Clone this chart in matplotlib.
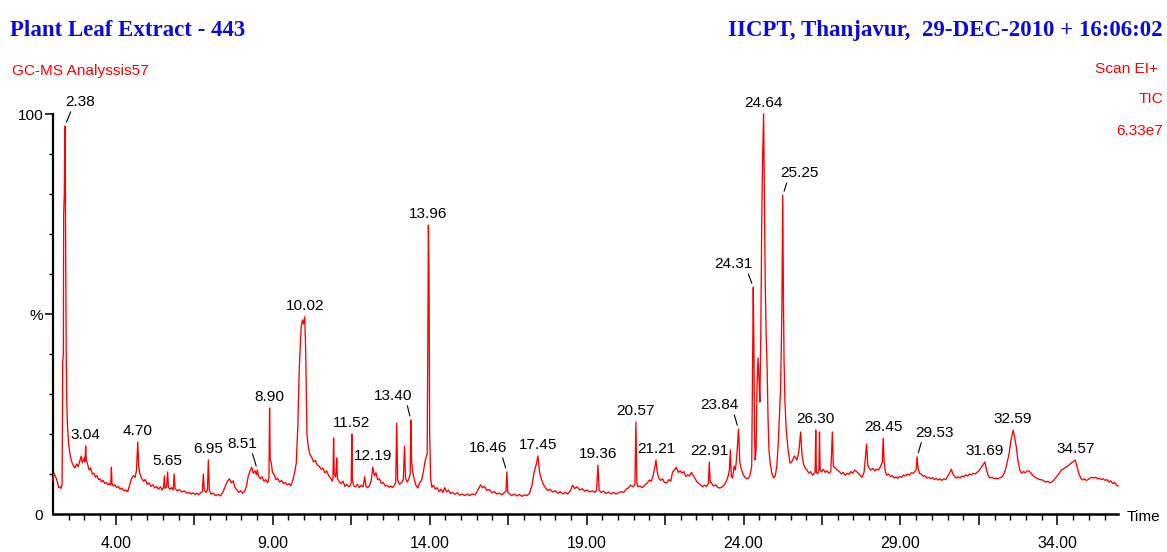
import matplotlib
matplotlib.use("Agg")
import matplotlib.pyplot as plt
import matplotlib.font_manager as fm
from matplotlib.ticker import FixedLocator, FixedFormatter

# ---------------- data ----------------
trace_time = [
    2.00, 2.03, 2.06, 2.10, 2.14, 2.18, 2.22, 2.26, 2.29, 2.31, 2.33, 2.34, 2.36, 2.37, 2.38, 2.39, 2.40, 2.42, 2.44, 2.46,
    2.50, 2.55, 2.60, 2.65, 2.70, 2.75, 2.80, 2.85, 2.90, 2.93, 2.97, 3.00, 3.02, 3.04, 3.06, 3.10, 3.15, 3.20, 3.25, 3.30,
    3.35, 3.40, 3.45, 3.50, 3.55, 3.60, 3.65, 3.70, 3.75, 3.80, 3.84, 3.86, 3.88, 3.92, 3.97, 4.02, 4.08, 4.14, 4.20, 4.26,
    4.32, 4.38, 4.44, 4.50, 4.56, 4.62, 4.66, 4.70, 4.73, 4.77, 4.82, 4.88, 4.94, 5.00, 5.06, 5.12, 5.18, 5.24, 5.30, 5.36,
    5.42, 5.48, 5.52, 5.55, 5.57, 5.62, 5.65, 5.68, 5.73, 5.78, 5.83, 5.86, 5.89, 5.95, 6.02, 6.10, 6.18, 6.26, 6.34, 6.40,
    6.46, 6.52, 6.58, 6.64, 6.70, 6.76, 6.79, 6.82, 6.88, 6.92, 6.95, 6.98, 7.03, 7.10, 7.18, 7.26, 7.34, 7.42, 7.50, 7.56,
    7.62, 7.68, 7.74, 7.80, 7.86, 7.92, 7.98, 8.04, 8.10, 8.16, 8.22, 8.28, 8.33, 8.38, 8.44, 8.48, 8.51, 8.55, 8.60, 8.66,
    8.72, 8.78, 8.84, 8.88, 8.90, 8.92, 8.95, 8.99, 9.05, 9.10, 9.16, 9.22, 9.28, 9.34, 9.40, 9.46, 9.52, 9.58, 9.64, 9.70,
    9.75, 9.80, 9.84, 9.87, 9.91, 9.95, 9.98, 10.02, 10.05, 10.07, 10.09, 10.13, 10.18, 10.24, 10.30, 10.36, 10.42, 10.48, 10.54, 10.60,
    10.66, 10.72, 10.78, 10.84, 10.90, 10.92, 10.94, 10.96, 11.00, 11.02, 11.04, 11.06, 11.12, 11.18, 11.24, 11.30, 11.36, 11.42, 11.48, 11.50,
    11.52, 11.54, 11.58, 11.64, 11.70, 11.76, 11.82, 11.88, 11.93, 11.97, 12.02, 12.08, 12.14, 12.19, 12.24, 12.29, 12.34, 12.40, 12.46, 12.52,
    12.58, 12.64, 12.70, 12.76, 12.82, 12.88, 12.92, 12.95, 12.98, 13.04, 13.10, 13.16, 13.20, 13.23, 13.28, 13.33, 13.38, 13.40, 13.42, 13.45,
    13.50, 13.56, 13.62, 13.68, 13.74, 13.80, 13.86, 13.92, 13.94, 13.96, 13.98, 14.00, 14.03, 14.07, 14.12, 14.18, 14.24, 14.30, 14.36, 14.42,
    14.48, 14.54, 14.60, 14.66, 14.73, 14.80, 14.88, 14.96, 15.04, 15.12, 15.20, 15.27, 15.35, 15.45, 15.55, 15.62, 15.68, 15.74, 15.82, 15.90,
    15.98, 16.06, 16.14, 16.22, 16.30, 16.38, 16.43, 16.46, 16.49, 16.55, 16.62, 16.70, 16.78, 16.86, 16.94, 17.02, 17.10, 17.18, 17.26, 17.33,
    17.40, 17.45, 17.50, 17.55, 17.62, 17.70, 17.77, 17.84, 17.92, 18.00, 18.08, 18.16, 18.24, 18.32, 18.40, 18.48, 18.55, 18.62, 18.70, 18.78,
    18.86, 18.94, 19.02, 19.10, 19.18, 19.26, 19.32, 19.36, 19.40, 19.46, 19.54, 19.62, 19.70, 19.78, 19.86, 19.94, 20.02, 20.10, 20.18, 20.26,
    20.34, 20.40, 20.48, 20.54, 20.57, 20.60, 20.63, 20.70, 20.78, 20.86, 20.94, 21.00, 21.06, 21.12, 21.18, 21.21, 21.25, 21.30, 21.36, 21.42,
    21.48, 21.55, 21.62, 21.68, 21.74, 21.80, 21.86, 21.92, 21.98, 22.04, 22.10, 22.16, 22.22, 22.28, 22.34, 22.40, 22.46, 22.52, 22.58, 22.64,
    22.70, 22.76, 22.82, 22.88, 22.91, 22.94, 22.99, 23.05, 23.12, 23.18, 23.25, 23.32, 23.38, 23.44, 23.50, 23.55, 23.58, 23.61, 23.65, 23.70,
    23.74, 23.78, 23.84, 23.88, 23.92, 23.98, 24.04, 24.10, 24.16, 24.20, 24.26, 24.29, 24.31, 24.33, 24.35, 24.37, 24.40, 24.43, 24.46, 24.49,
    24.52, 24.55, 24.58, 24.61, 24.64, 24.67, 24.69, 24.72, 24.75, 24.78, 24.81, 24.85, 24.90, 24.96, 25.01, 25.06, 25.10, 25.14, 25.18, 25.22,
    25.25, 25.27, 25.29, 25.32, 25.36, 25.42, 25.48, 25.55, 25.62, 25.70, 25.76, 25.82, 25.86, 25.91, 25.96, 26.02, 26.08, 26.14, 26.20, 26.26,
    26.28, 26.30, 26.32, 26.36, 26.40, 26.42, 26.44, 26.48, 26.54, 26.60, 26.66, 26.72, 26.78, 26.83, 26.86, 26.92, 26.98, 27.05, 27.12, 27.18,
    27.24, 27.30, 27.36, 27.42, 27.48, 27.54, 27.60, 27.66, 27.72, 27.78, 27.84, 27.92, 27.96, 28.00, 28.06, 28.12, 28.18, 28.24, 28.30, 28.36,
    28.42, 28.45, 28.48, 28.52, 28.56, 28.62, 28.68, 28.74, 28.80, 28.86, 28.92, 28.98, 29.04, 29.10, 29.16, 29.22, 29.28, 29.34, 29.40, 29.46,
    29.50, 29.53, 29.56, 29.60, 29.66, 29.72, 29.78, 29.84, 29.90, 29.96, 30.02, 30.08, 30.14, 30.20, 30.26, 30.32, 30.38, 30.44, 30.50, 30.56,
    30.62, 30.67, 30.72, 30.78, 30.84, 30.90, 30.96, 31.02, 31.08, 31.14, 31.20, 31.26, 31.32, 31.38, 31.44, 31.50, 31.56, 31.62, 31.69, 31.74,
    31.80, 31.86, 31.92, 31.98, 32.04, 32.10, 32.16, 32.22, 32.28, 32.34, 32.40, 32.46, 32.52, 32.59, 32.64, 32.69, 32.74, 32.80, 32.86, 32.92,
    32.98, 33.04, 33.10, 33.16, 33.22, 33.28, 33.34, 33.40, 33.46, 33.52, 33.58, 33.64, 33.70, 33.76, 33.82, 33.88, 33.94, 34.00, 34.06, 34.12,
    34.18, 34.24, 34.30, 34.36, 34.42, 34.48, 34.52, 34.57, 34.62, 34.68, 34.74, 34.80, 34.86, 34.92, 34.98, 35.04, 35.10, 35.16, 35.22, 35.28,
    35.34, 35.40, 35.46, 35.52, 35.58, 35.64, 35.70, 35.76, 35.82, 35.88, 35.93,
]
trace_intensity = [
    8.5, 10.2, 9.6, 9.0, 8.0, 6.6, 6.8, 6.4, 7.5, 38, 40, 75, 80, 90, 97, 88, 70, 40, 28, 22,
    17.5, 14.5, 13, 12, 11.5, 12.5, 11.8, 13.2, 14.5, 12.8, 13.5, 14.2, 13, 17, 13.5, 12.5, 11, 11.5, 10, 10.2,
    9.2, 9.6, 8.6, 8.8, 8.0, 8.4, 7.6, 7.9, 7.3, 7.6, 7.2, 11.7, 7.6, 7.0, 7.3, 6.6, 6.9, 6.2, 6.5, 5.8,
    6.0, 5.6, 7.2, 8.8, 9.6, 9.2, 11, 18, 12, 10, 9.0, 8.2, 8.6, 7.4, 7.8, 6.9, 7.3, 6.5, 6.9, 6.2,
    6.8, 6.0, 6.6, 9.5, 6.4, 6.8, 10.5, 6.6, 6.2, 6.6, 6.0, 10, 6.4, 5.8, 6.1, 5.5, 5.8, 5.2, 5.4, 5.0,
    5.3, 4.9, 5.2, 4.8, 5.3, 5.6, 10, 6.0, 5.4, 6.0, 13.5, 6.0, 5.0, 5.2, 4.6, 4.9, 4.5, 5.6, 7.2, 8.2,
    8.8, 7.8, 8.3, 6.6, 6.0, 5.4, 5.8, 5.2, 5.6, 6.8, 9.5, 10.8, 11.7, 10.2, 10.8, 9.8, 11.0, 9.4, 8.8, 9.3,
    8.2, 8.6, 7.8, 9.0, 26.5, 13.5, 13.0, 10.5, 9.8, 8.6, 8.9, 8.0, 8.4, 7.6, 7.9, 7.3, 7.6, 7.1, 8.5, 10.5,
    12.7, 22, 35, 41, 47, 48.5, 47.5, 49.3, 41, 30, 20, 17, 15, 14.2, 13, 13.4, 12.2, 12.0, 11.2, 11.5,
    10.3, 10.8, 9.6, 9.0, 8.2, 9.0, 19, 10, 9.2, 10.5, 14, 9.0, 8.0, 7.6, 8.2, 6.9, 7.4, 6.8, 7.2, 8.0,
    20, 8.5, 7.0, 6.8, 7.4, 6.6, 7.2, 6.8, 9.3, 7.0, 6.6, 7.0, 8.5, 11.7, 9.6, 10.3, 8.6, 8.8, 7.6, 7.9,
    7.0, 7.2, 6.7, 7.0, 6.6, 7.2, 8.0, 22.7, 8.5, 7.4, 7.8, 8.6, 17, 9.0, 8.0, 8.6, 10, 23.5, 14, 11,
    9.0, 7.2, 6.5, 7.8, 8.4, 10.5, 13.5, 15, 40, 72.2, 59, 20, 9, 6.7, 7.2, 6.2, 6.6, 5.6, 6.2, 5.4,
    6.6, 5.5, 6.0, 5.1, 5.4, 4.9, 5.3, 4.7, 5.0, 4.6, 5.0, 4.6, 5.0, 4.8, 6.2, 7.3, 6.6, 6.9, 5.9, 6.1,
    5.3, 5.6, 5.0, 5.2, 4.8, 5.4, 5.6, 10.5, 5.4, 5.0, 4.6, 5.0, 4.5, 4.9, 4.4, 4.8, 4.6, 5.2, 7.2, 10.5,
    12.5, 14.5, 10.5, 9.0, 7.4, 6.4, 5.9, 6.2, 5.5, 5.8, 5.2, 5.6, 5.0, 5.4, 5.0, 5.8, 7.2, 6.4, 6.8, 6.0,
    6.3, 5.7, 6.0, 5.5, 5.8, 5.4, 5.9, 12.2, 6.0, 5.4, 5.7, 5.1, 5.5, 5.0, 5.4, 5.0, 5.3, 5.6, 5.4, 6.2,
    6.6, 7.2, 6.8, 7.4, 23, 8.0, 6.8, 7.0, 6.6, 7.3, 7.8, 8.5, 8.2, 9.6, 12, 13.5, 10.5, 9.0, 8.4, 8.8,
    7.9, 7.8, 8.6, 8.2, 10.5, 11, 11.7, 10.4, 10.8, 10.2, 10.6, 9.4, 9.8, 9.5, 10.4, 9.6, 8.8, 8.0, 7.6, 7.2,
    6.8, 7.2, 6.9, 7.6, 13, 8.0, 7.6, 7.0, 7.3, 6.6, 6.5, 6.8, 7.2, 8.0, 9.2, 11, 16, 9.5, 9.0, 12,
    11, 14, 21.2, 13, 11.5, 10.0, 9.2, 8.8, 9.0, 9.5, 12, 40, 56.7, 42, 20, 13.5, 16, 32, 39, 34,
    28, 45, 73.5, 90, 100, 75, 58.5, 45, 36.8, 24, 16, 12.7, 10.2, 9.0, 9.5, 12, 16.8, 24, 31, 50,
    79.7, 55, 38.5, 28, 21, 16, 12.7, 13.2, 14.5, 13.5, 15.5, 20.5, 15, 12.5, 11.5, 11.0, 10.2, 10.6, 9.7, 10.2,
    10.5, 21, 10.5, 10, 10.8, 20.5, 11.2, 10.5, 11.2, 10.4, 10.8, 10.2, 10.6, 20.5, 12, 11.5, 11.0, 10.6, 10.0, 10.4,
    9.7, 10.2, 9.9, 10.6, 10.2, 11.0, 10.6, 10.2, 9.6, 9.2, 10.5, 17.5, 12, 11.5, 11, 11.4, 10.8, 11.2, 11, 11.8,
    13, 19, 13, 10.5, 9.7, 10.0, 9.4, 9.6, 9.0, 9.3, 8.9, 9.4, 9.2, 9.8, 9.5, 10.0, 9.7, 10.3, 10.2, 10.6,
    11.2, 14.3, 11.5, 10.2, 10.0, 9.4, 9.6, 9.0, 9.2, 8.8, 9.1, 8.6, 8.9, 8.5, 8.8, 8.4, 8.8, 8.6, 9.4, 10.2,
    11.2, 10.0, 9.4, 9.0, 9.3, 9.0, 9.5, 9.3, 9.8, 9.5, 10.0, 9.8, 10.2, 10.0, 10.4, 10.8, 11.5, 12.2, 13, 11,
    9.5, 9.0, 9.2, 8.8, 9.0, 8.8, 9.0, 9.2, 9.8, 11, 13, 15, 18.5, 21, 19, 16.8, 13.5, 11, 10.2, 10.6,
    10.3, 10.8, 10.7, 10.2, 9.6, 9.2, 9.0, 8.7, 8.6, 8.5, 8.2, 8.0, 8.2, 7.8, 8.0, 8.4, 9.0, 9.6, 10.2, 11.0,
    11.2, 11.6, 11.8, 12.2, 12.6, 13, 13.2, 13.5, 12, 10.2, 9.0, 8.5, 8.8, 8.4, 8.6, 9.0, 9.2, 9.0, 9.2, 8.8,
    8.9, 8.6, 8.8, 8.4, 8.6, 8.0, 8.3, 7.6, 7.9, 7.2, 7.0,
]

peak_labels = ["2.38", "3.04", "4.70", "5.65", "6.95", "8.51", "8.90", "10.02", "11.52", "12.19",
               "13.40", "13.96", "16.46", "17.45", "19.36", "20.57", "21.21", "22.91", "23.84", "24.31",
               "24.64", "25.25", "26.30", "28.45", "29.53", "31.69", "32.59", "34.57"]
peak_times = [2.38, 3.04, 4.70, 5.65, 6.95, 8.51, 8.90, 10.02, 11.52, 12.19,
              13.40, 13.96, 16.46, 17.45, 19.36, 20.57, 21.21, 22.91, 23.84, 24.31,
              24.64, 25.25, 26.30, 28.45, 29.53, 31.69, 32.59, 34.57]
peak_heights = [97, 17, 18, 10.5, 13.5, 11.0, 26.5, 49.3, 20, 11.7,
                23.5, 72.2, 10.5, 14.5, 12.2, 23, 13.5, 13, 21.2, 56.7,
                100, 79.7, 21, 19, 14.3, 13, 21, 13.5]

x_major_ticks = [4, 6.5, 9, 11.5, 14, 16.5, 19, 21.5, 24, 26.5, 29, 31.5, 34]
x_tick_labels = ["4.00", "", "9.00", "", "14.00", "", "19.00", "", "24.00", "", "29.00", "", "34.00"]
y_major_ticks = [0, 50, 100]
y_tick_labels = ["0", "%", "100"]

# ---------------- layout / style ----------------
W, H = 1167, 552
avail = {f.name for f in fm.fontManager.ttflist}
if "Liberation Sans Narrow" in avail:
    SANS = ["Liberation Sans Narrow", "DejaVu Sans"]
    k = 1.0
else:
    SANS = ["Liberation Sans", "DejaVu Sans"]
    k = 0.82
SERIF = ["Liberation Serif", "DejaVu Serif"]
FS = 13.5 * k
RED = "#FF0000"
BLUE = "#0A0ADC"

# label offsets in pixels (dx, dy up) and leader-line anchor
leader = {"2.38": (15, 20, 0.25), "8.51": (-15, 22, 0.8), "13.40": (-18, 20, 0.85),
          "16.46": (-19, 20, 0.85), "23.84": (-19, 20, 0.85), "24.31": (-20, 19, 0.85),
          "25.25": (17, 18, 0.2), "29.53": (17, 20, 0.2)}

fig = plt.figure(figsize=(W / 100, H / 100), dpi=100)
ax = fig.add_axes([53 / W, 38 / H, 1065 / W, 400 / H])

ax.plot(trace_time, trace_intensity, color=RED, lw=0.95, clip_on=False, zorder=3)

ax.set_xlim(2.0, 35.93)
ax.set_ylim(0, 100)

for s in ["top", "right"]:
    ax.spines[s].set_visible(False)
ax.spines["left"].set_linewidth(1.6)
ax.spines["bottom"].set_linewidth(1.8)
ax.spines["left"].set_bounds(0, 100)

ax.xaxis.set_major_locator(FixedLocator(x_major_ticks))
ax.xaxis.set_major_formatter(FixedFormatter(x_tick_labels))
minor_x = [2.5 + 0.5 * i for i in range(67) if (2.5 + 0.5 * i) not in x_major_ticks]
ax.xaxis.set_minor_locator(FixedLocator(minor_x))
ax.tick_params(axis="x", which="major", length=8, width=1.1, direction="out", pad=8,
               labelsize=FS * 1.03)
ax.tick_params(axis="x", which="minor", length=4.5, width=1.0, direction="out")

ax.yaxis.set_major_locator(FixedLocator(y_major_ticks))
ax.yaxis.set_major_formatter(FixedFormatter(y_tick_labels))
ax.yaxis.set_minor_locator(FixedLocator([10, 20, 30, 40, 60, 70, 80, 90]))
ax.tick_params(axis="y", which="major", length=6, width=1.1, direction="out", pad=1,
               labelsize=FS)
ax.tick_params(axis="y", which="minor", length=3, width=1.0, direction="out")
ax.yaxis.get_major_ticks()[0].tick1line.set_visible(False)

for lab in ax.get_xticklabels() + ax.get_yticklabels():
    lab.set_family(SANS)

for lab, t, v in zip(peak_labels, peak_times, peak_heights):
    if lab in leader:
        dx, dy, rx = leader[lab]
        ax.annotate(lab, xy=(t, v), xytext=(dx, dy), textcoords="offset pixels",
                    ha="center", va="baseline", fontsize=FS, family=SANS, color="black",
                    annotation_clip=False, zorder=5,
                    arrowprops=dict(arrowstyle="-", color="black", lw=0.8,
                                    relpos=(rx, 0.12), shrinkA=0, shrinkB=3))
    else:
        ax.annotate(lab, xy=(t, v), xytext=(0, 7), textcoords="offset pixels",
                    ha="center", va="baseline", fontsize=FS, family=SANS, color="black",
                    annotation_clip=False, zorder=5)

# header texts
fig.text(10 / W, 1 - 36 / H, "Plant Leaf Extract - 443", family=SERIF, weight="bold",
         fontsize=16.5, color=BLUE, ha="left", va="baseline")
fig.text(1163 / W, 1 - 36 / H, "IICPT, Thanjavur,  29-DEC-2010 + 16:06:02", family=SERIF,
         weight="bold", fontsize=16.5, color=BLUE, ha="right", va="baseline")
fig.text(12 / W, 1 - 75 / H, "GC-MS Analyssis57", family=SANS, fontsize=FS, color=RED,
         ha="left", va="baseline")
fig.text(1158 / W, 1 - 73 / H, "Scan EI+", family=SANS, fontsize=FS, color=RED,
         ha="right", va="baseline")
fig.text(1163 / W, 1 - 103 / H, "TIC", family=SANS, fontsize=FS, color=RED,
         ha="right", va="baseline")
fig.text(1163 / W, 1 - 135 / H, "6.33e7", family=SANS, fontsize=FS, color=RED,
         ha="right", va="baseline")
fig.text(1127 / W, 1 - 521 / H, "Time", family=SANS, fontsize=FS, color="black",
         ha="left", va="baseline")

fig.savefig("out.png", dpi=100)
